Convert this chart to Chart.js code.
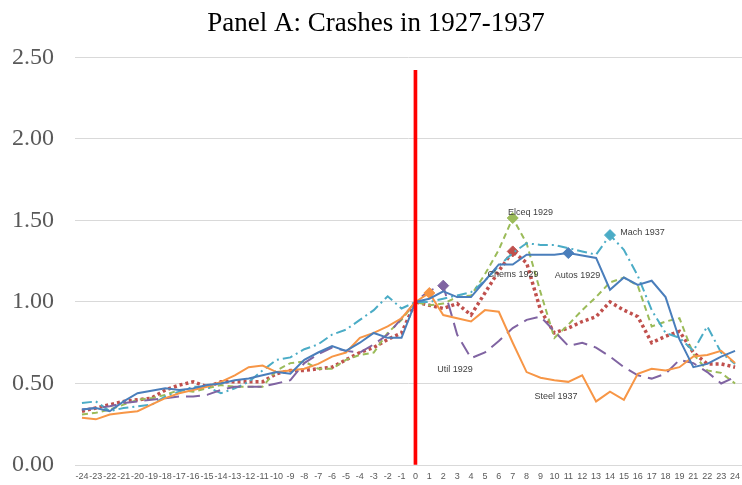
<!DOCTYPE html>
<html>
<head>
<meta charset="utf-8">
<script src="https://cdn.jsdelivr.net/npm/chart.js@4/dist/chart.umd.min.js"></script>
<style>
  html, body { margin: 0; padding: 0; background: #fff; overflow: hidden; }
  #wrap { width: 742px; height: 485px; }
</style>
</head>
<body>
<div id="wrap"><canvas id="c"></canvas></div>
<script>
// Category labels (months relative to crash; note "20" is absent in the original)
const categories = ['-24','-23','-22','-21','-20','-19','-18','-17','-16','-15','-14','-13','-12','-11','-10','-9','-8','-7','-6','-5','-4','-3','-2','-1',
  '0','1','2','3','4','5','6','7','8','9','10','11','12','13','14','15','16','17','18','19','21','22','23','24'];

const autos1929 = [0.34,0.35,0.33,0.39,0.44,0.455,0.47,0.46,0.47,0.49,0.50,0.52,0.53,0.55,0.57,0.56,0.645,0.69,0.73,0.70,0.75,0.81,0.78,0.78,
  1.00,1.02,1.065,1.03,1.03,1.13,1.23,1.23,1.29,1.29,1.29,1.30,1.285,1.27,1.075,1.15,1.105,1.13,1.03,0.77,0.60,0.62,0.665,0.70];
const chems1929 = [0.33,0.35,0.37,0.39,0.40,0.41,0.46,0.49,0.51,0.48,0.51,0.51,0.51,0.51,0.56,0.58,0.58,0.59,0.60,0.645,0.69,0.72,0.77,0.81,
  1.00,0.98,0.96,0.99,0.92,1.055,1.19,1.31,1.24,0.95,0.81,0.84,0.88,0.91,1.00,0.95,0.91,0.75,0.79,0.82,0.69,0.62,0.62,0.60];
const elceq1929 = [0.31,0.32,0.34,0.37,0.40,0.41,0.43,0.46,0.45,0.47,0.49,0.48,0.48,0.48,0.58,0.625,0.635,0.59,0.59,0.645,0.675,0.69,0.81,0.89,
  1.00,0.98,0.99,1.03,1.04,1.17,1.32,1.515,1.36,1.06,0.78,0.86,0.95,1.03,1.12,1.15,1.10,0.85,0.88,0.90,0.68,0.58,0.565,0.50];
const util1929 = [0.34,0.35,0.36,0.38,0.39,0.40,0.41,0.42,0.42,0.43,0.46,0.48,0.48,0.48,0.50,0.52,0.625,0.68,0.72,0.70,0.69,0.74,0.80,0.90,
  1.00,1.07,1.10,0.80,0.655,0.69,0.76,0.84,0.89,0.91,0.82,0.73,0.75,0.72,0.665,0.60,0.55,0.53,0.56,0.645,0.625,0.57,0.50,0.54];
const mach1937 = [0.38,0.39,0.33,0.35,0.36,0.37,0.42,0.45,0.48,0.48,0.44,0.47,0.51,0.58,0.645,0.66,0.71,0.74,0.80,0.83,0.89,0.95,1.035,0.96,
  1.00,1.00,1.02,1.04,1.06,1.13,1.22,1.30,1.36,1.35,1.35,1.33,1.31,1.29,1.41,1.32,1.16,0.95,0.81,0.78,0.70,0.85,0.69,0.62];
const steel1937 = [0.29,0.28,0.31,0.32,0.33,0.37,0.41,0.44,0.46,0.48,0.51,0.55,0.60,0.61,0.57,0.58,0.59,0.62,0.665,0.69,0.78,0.81,0.85,0.90,
  1.00,1.055,0.92,0.90,0.88,0.95,0.94,0.75,0.57,0.535,0.52,0.51,0.55,0.39,0.45,0.40,0.56,0.59,0.58,0.60,0.665,0.675,0.70,0.625];

// Category at which each series carries its highlighted marker
const markerAutos = '11';
const markerChems = '7';
const markerElceq = '7';
const markerUtil = '2';
const markerMach = '14';
const markerSteel = '1';

// Crash marker (vertical red line)
const crashCategory = '0';
const crashTop = 2.42;

const yTicks = [0, 0.5, 1.0, 1.5, 2.0, 2.5];

function radii(cat, r) { return categories.map(c => c === cat ? r : 0); }

function lineSet(label, data, color, width, dash, markerCat) {
  return {
    type: 'line', label, data,
    borderColor: color, backgroundColor: color,
    borderWidth: width, borderDash: dash, borderCapStyle: 'butt',
    tension: 0, fill: false,
    pointStyle: 'rectRot',
    pointRadius: radii(markerCat, 5.5),
    pointHoverRadius: 0,
    pointBackgroundColor: color, pointBorderColor: color, pointBorderWidth: 1,
    order: 2
  };
}

const seriesLabels = {
  id: 'seriesLabels',
  afterDatasetsDraw(chart, args, opts) {
    const { ctx, scales: { x, y } } = chart;
    ctx.save();
    ctx.font = opts.font;
    ctx.fillStyle = opts.color;
    ctx.textAlign = 'center';
    ctx.textBaseline = 'middle';
    for (const a of opts.items) {
      ctx.fillText(a.text, x.getPixelForValue(a.at), y.getPixelForValue(a.value));
    }
    ctx.restore();
  }
};

new Chart(document.getElementById('c'), {
  data: {
    labels: categories,
    datasets: [
      {
        type: 'bar', label: 'Crash',
        data: categories.map(c => c === crashCategory ? crashTop : null),
        backgroundColor: '#FF0000', borderWidth: 0,
        barThickness: 3, order: 0
      },
      lineSet('Autos 1929', autos1929, '#4A7EBB', 2, [], markerAutos),
      lineSet('Steel 1937', steel1937, '#F79646', 2, [], markerSteel),
      lineSet('Util 1929', util1929, '#8064A2', 2, [14, 7], markerUtil),
      lineSet('Mach 1937', mach1937, '#4BACC6', 2, [10, 4, 2, 4], markerMach),
      lineSet('Elceq 1929', elceq1929, '#9BBB59', 2, [6, 4], markerElceq),
      lineSet('Chems 1929', chems1929, '#C0504D', 3.5, [3, 3], markerChems)
    ]
  },
  options: {
    responsive: true,
    maintainAspectRatio: false,
    animation: false,
    events: [],
    layout: { padding: { left: 10, right: 0, top: 0, bottom: 0 } },
    plugins: {
      legend: { display: false },
      tooltip: { enabled: false },
      title: {
        display: true,
        text: 'Panel A: Crashes in 1927-1937',
        color: '#000000',
        font: { family: 'Liberation Serif', size: 27, weight: 'normal' },
        padding: { top: 8, bottom: 17 }
      },
      seriesLabels: {
        font: '9px "Liberation Sans"',
        color: '#404040',
        items: [
          { text: 'Elceq 1929', at: 32.28, value: 1.546 },
          { text: 'Mach 1937', at: 40.34, value: 1.427 },
          { text: 'Chems 1929', at: 31.02, value: 1.167 },
          { text: 'Autos 1929', at: 35.66, value: 1.161 },
          { text: 'Util 1929', at: 26.85, value: 0.584 },
          { text: 'Steel 1937', at: 34.11, value: 0.418 }
        ]
      }
    },
    scales: {
      x: {
        type: 'category',
        offset: true,
        grid: { display: false, drawTicks: false },
        border: { display: true, color: '#D9D9D9', width: 1 },
        ticks: {
          autoSkip: false, maxRotation: 0, minRotation: 0,
          padding: 6,
          color: '#595959',
          font: { family: 'Liberation Sans', size: 9 }
        },
        afterFit: (s) => { s.height = 20; s.paddingLeft = 0; s.paddingRight = 0; }
      },
      y: {
        min: 0, max: 2.5,
        afterBuildTicks: (s) => { s.ticks = yTicks.map(v => ({ value: v })); },
        grid: { color: '#D9D9D9', lineWidth: 1, drawTicks: false },
        border: { display: false },
        ticks: {
          padding: 21,
          color: '#595959',
          font: { family: 'Liberation Serif', size: 24 },
          callback: (v) => Number(v).toFixed(2)
        },
        afterFit: (s) => { s.width = 65; s.paddingTop = 0; s.paddingBottom = 0; }
      }
    }
  },
  plugins: [seriesLabels]
});
</script>
</body>
</html>
